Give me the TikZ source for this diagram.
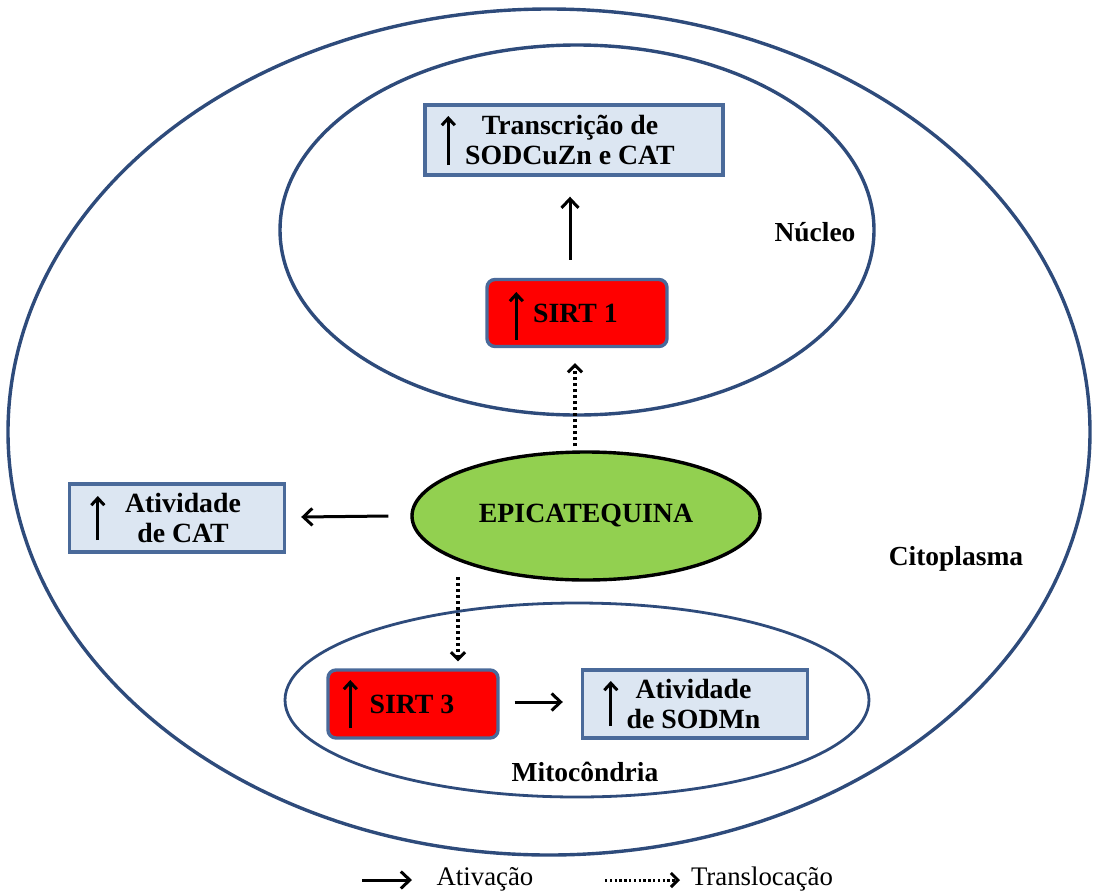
\documentclass[tikz,border=0pt]{standalone}
\usepackage{fontspec}
\setmainfont{Liberation Serif}
\usetikzlibrary{shapes.geometric,arrows.meta}
\definecolor{membrane}{HTML}{2E4B7B}
\definecolor{boxline}{HTML}{4A6A9A}
\definecolor{boxfill}{HTML}{DCE6F2}
\definecolor{sirtred}{HTML}{FF0000}
\definecolor{epigreen}{HTML}{92D050}
\tikzset{
  txt/.style={font=\fontsize{27.8}{30}\selectfont\bfseries, align=center},
  bluebox/.style={draw=boxline, fill=boxfill, line width=3.4pt, inner sep=0pt, txt},
  redbox/.style={draw=boxline, fill=sirtred, line width=3.4pt, rounded corners=8pt, inner sep=0pt, txt},
  act/.style={line width=3pt, -{Straight Barb[length=9pt,width=17pt,line width=3pt]}},
  trans/.style={line width=3.6pt, dash pattern=on 3pt off 3pt, -{Straight Barb[length=7pt,width=14pt,line width=3pt]}},
  uparr/.style={line width=3.2pt, -{Straight Barb[length=7pt,width=13pt,line width=3pt]}},
  membr/.style={draw=membrane, line width=3.4pt},
  lbl/.style={font=\fontsize{27.5}{30}\selectfont\bfseries},
  leg/.style={font=\fontsize{26.8}{30}\selectfont}
}
\begin{document}
\begin{tikzpicture}[x=1pt,y=-1pt]
\useasboundingbox (0,0) rectangle (1094,894);
% membranes
\draw[membr] (549,432) ellipse [x radius=541, y radius=423];
\draw[membr] (577,230) ellipse [x radius=297, y radius=185];
\draw[membr, line width=2.8pt] (577,700) ellipse [x radius=292, y radius=97];
% nodes
\node[bluebox, minimum width=298pt, minimum height=70pt] (transc) at (574,140) {\hspace*{-8pt}Transcrição de\\\hspace*{-8pt}SODCuZn e CAT};
\node[redbox, minimum width=180pt, minimum height=67pt] (sirt1) at (577,313) {\hspace*{-3pt}SIRT 1};
\node[draw=black, fill=epigreen, ellipse, line width=3.4pt, minimum width=348pt, minimum height=128pt, inner sep=0pt, txt] (epi) at (586,516) {EPICATEQUINA};
\node[bluebox, minimum width=215pt, minimum height=68pt] (cat) at (177,518) {\hspace*{12pt}Atividade\\\hspace*{12pt}de CAT};
\node[redbox, minimum width=170pt, minimum height=68pt] (sirt3) at (413,704) {\hspace*{-2pt}SIRT 3};
\node[bluebox, minimum width=225pt, minimum height=68pt] (sod) at (695,704) {\hspace*{-3pt}Atividade\\\hspace*{-3pt}de SODMn};
% up arrows inside boxes
\draw[uparr] ([xshift=25pt,yshift=-25pt]transc.west) -- ([xshift=25pt,yshift=24pt]transc.west);
\draw[uparr] ([xshift=31pt,yshift=-27pt]sirt1.west) -- ([xshift=31pt,yshift=21pt]sirt1.west);
\draw[uparr] ([xshift=30pt,yshift=-22pt]cat.west) -- ([xshift=30pt,yshift=22pt]cat.west);
\draw[uparr] ([xshift=24pt,yshift=-24pt]sirt3.west) -- ([xshift=24pt,yshift=24pt]sirt3.west);
\draw[uparr] ([xshift=30pt,yshift=-22pt]sod.west) -- ([xshift=30pt,yshift=23pt]sod.west);
% labels
\node[lbl] (nucleo) at (815,232) {Núcleo};
\node[lbl] (cito) at (956,559) {Citoplasma};
\node[lbl] (mito) at (585,772) {Mitocôndria};
% connectors
\draw[act] ([xshift=-7pt,yshift=18pt]sirt1.north) -- ([xshift=-4pt,yshift=-20pt]transc.south);
\draw[trans] ([xshift=-11pt,yshift=4pt]epi.north) -- ([xshift=-2pt,yshift=-15pt]sirt1.south);
\draw[act] ([xshift=-22pt]epi.west) -- ([xshift=15pt,yshift=1pt]cat.east);
\draw[trans] ([xshift=45pt,yshift=91pt]sirt3.north) -- ([xshift=45pt,yshift=7pt]sirt3.north);
\draw[act] ([xshift=15pt,yshift=2pt]sirt3.east) -- ([xshift=-18pt,yshift=2pt]sod.west);
% legend
\coordinate (la1) at (362,880);
\coordinate (la2) at (412,880);
\coordinate (lt1) at (605,880);
\coordinate (lt2) at (680,880);
\draw[act] (la1) -- (la2);
\draw[trans, line width=3pt, dash pattern=on 2.4pt off 2.4pt] (lt1) -- (lt2);
\node[leg] (lativ) at (485,879) {Ativação};
\node[leg] (ltrans) at (762,879) {Translocação};
\end{tikzpicture}
\end{document}
